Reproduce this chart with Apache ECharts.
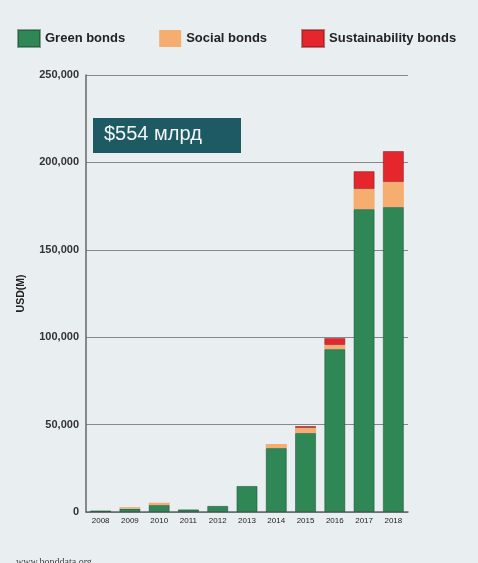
<!DOCTYPE html>
<html><head><meta charset="utf-8">
<script src="https://cdn.jsdelivr.net/npm/echarts@6/dist/echarts.min.js"></script>
<style>html,body{margin:0;padding:0;background:#e9eef0;}#c{width:478px;height:563px;}</style>
</head><body><div id="c"></div>
<script>
const years = ['2008','2009','2010','2011','2012','2013','2014','2015','2016','2017','2018'];
const green = [900, 2000, 4000, 1500, 3500, 14900, 36600, 45200, 93200, 173300, 174500];
const social = [0, 800, 1300, 0, 0, 0, 2300, 2800, 2300, 11400, 14200];
const sustainability = [0, 0, 0, 0, 0, 0, 0, 1200, 4000, 10300, 17800];
const yTicks = [0, 50000, 100000, 150000, 200000, 250000];

const nz = arr => arr.map(v => v === 0 ? '-' : v);
const chart = echarts.init(document.getElementById('c'));
chart.setOption({
  backgroundColor: '#e9eef0',
  animation: false,
  legend: {
    top: 24, left: 12, itemWidth: 22, itemHeight: 17, itemGap: 34, icon: 'rect',
    textStyle: {fontFamily: 'Liberation Sans', fontWeight: 'bold', fontSize: 13, color: '#222'},
    data: ['Green bonds', 'Social bonds', 'Sustainability bonds']
  },
  grid: {left: 86, right: 70, top: 75, bottom: 51},
  xAxis: {
    type: 'category', data: years,
    axisLine: {lineStyle: {color: '#666', width: 1.5}},
    axisTick: {show: false},
    axisLabel: {fontFamily: 'Liberation Sans', fontSize: 8, color: '#222', margin: 5}
  },
  yAxis: {
    type: 'value', min: yTicks[0], max: yTicks[yTicks.length-1], interval: 50000,
    name: 'USD(M)', nameLocation: 'middle', nameGap: 59, nameRotate: 90,
    nameTextStyle: {fontFamily: 'Liberation Sans', fontWeight: 'bold', fontSize: 10.5, color: '#222'},
    axisLine: {show: true, lineStyle: {color: '#666', width: 1.5}},
    axisTick: {show: false},
    splitLine: {lineStyle: {color: '#888', width: 1}},
    axisLabel: {fontFamily: 'Liberation Sans', fontWeight: 'bold', fontSize: 11, color: '#333', margin: 7,
      formatter: v => v.toLocaleString('en-US')}
  },
  series: [
    {name: 'Green bonds', type: 'bar', stack: 's', data: nz(green), barWidth: '72%', itemStyle: {color: '#2f8756', borderColor: 'rgba(20,60,40,0.45)', borderWidth: 1}},
    {name: 'Social bonds', type: 'bar', stack: 's', data: nz(social), itemStyle: {color: '#f6ae70'}},
    {name: 'Sustainability bonds', type: 'bar', stack: 's', data: nz(sustainability), itemStyle: {color: '#e5272d', borderColor: 'rgba(120,20,20,0.5)', borderWidth: 1}}
  ],
  graphic: [
    {type: 'rect', left: 93, top: 118, shape: {width: 148, height: 35}, style: {fill: '#1d5a64'}},
    {type: 'text', left: 104, top: 124, style: {text: '$554 млрд', fill: '#f2f6f6', font: '20px "Liberation Sans"'}},
    {type: 'text', left: 16, top: 557, style: {text: 'www.bonddata.org', fill: '#444', font: '10px "Liberation Serif"'}}
  ]
});
</script></body></html>
